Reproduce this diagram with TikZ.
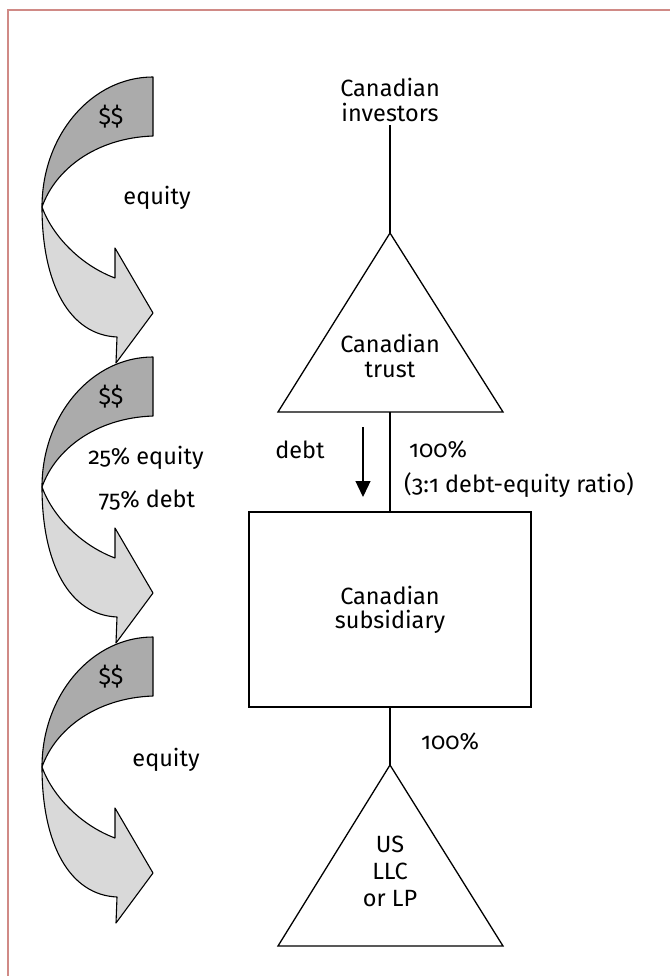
\documentclass[tikz,border=0pt]{standalone}
\usepackage{fontspec}
\setmainfont{Fira Sans}[Numbers=OldStyle]
\usetikzlibrary{arrows.meta}
\definecolor{framecol}{RGB}{208,138,134}
\definecolor{darkband}{RGB}{171,171,171}
\definecolor{lightband}{RGB}{217,217,217}
\tikzset{
  lbl/.style={font=\fontsize{23.5}{24.5}\selectfont, inner sep=0pt, align=center, text=black},
  shapeline/.style={draw=black, line width=1.3pt, line join=miter},
  bandline/.style={draw=black, line width=1.1pt, line join=round},
}
\begin{document}
\begin{tikzpicture}[x=1pt,y=-1pt]
\useasboundingbox (0,0) rectangle (670,976);
\fill[white] (0,0) rectangle (670,976);
\draw[framecol, line width=1.5pt] (8,976) -- (8,10) -- (670,10);

% curved ribbon arrows
\foreach \k in {0,1,2}{
  \begin{scope}[shift={(0,280*\k)}]
    \draw[bandline, fill=lightband] (42,207) .. controls (42,285) and (70,335) .. (117,337)
      -- (116,363) -- (153,313) -- (115,248) -- (115,278)
      .. controls (80,265) and (52,235) .. (42,207) -- cycle;
    \draw[bandline, fill=darkband] (153,77) .. controls (91.7,77) and (42,135.2) .. (42,207)
      .. controls (55,170) and (95,138) .. (153,136) -- cycle;
    \node[lbl] (dollar\k) at (111,117) {\$\$};
  \end{scope}
}
\node[lbl] (eq1) at (157,198) {equity};
\node[lbl] (eq2) at (146,458) {25\% equity};
\node[lbl] (db2) at (147,500) {75\% debt};
\node[lbl] (eq3) at (166,760) {equity};

% right structure
\node[lbl] (inv) at (390,100) {Canadian\\investors};
\coordinate (trustapex) at (390,233);
\coordinate (trustbase) at (390,412);
\draw[shapeline] (trustapex) -- (503,412) -- (278,412) -- cycle;
\node[lbl] (trust) at (390,356) {Canadian\\trust};

\node[shapeline, minimum width=282pt, minimum height=195pt, inner sep=0pt] (sub) at (390,609.5) {};
\node[lbl] (subtxt) at (390,610) {Canadian\\subsidiary};

\coordinate (llcapex) at (390,765);
\draw[shapeline] (llcapex) -- (503,946) -- (278,946) -- cycle;
\node[lbl, align=center, font=\fontsize{23.5}{27}\selectfont] (llc) at (390,871) {US\\LLC\\or LP};

\draw[line width=1.3pt] (inv.south) ++(0,3) coordinate (invb) -- (trustapex);
\draw[line width=1.3pt] (trustbase) -- (sub.north);
\draw[line width=1.3pt] (sub.south) -- (llcapex);

\coordinate (dA) at (363,427);
\coordinate (dB) at (363,497);
\draw[line width=1.3pt, -{Triangle[width=15pt,length=16pt]}] (dA) -- (dB);
\node[lbl] (debt) at (300,450) {debt};
\node[lbl, anchor=west] (p1) at (409,450) {100\%};
\node[lbl, anchor=west] (ratio) at (404,485) {(3:1 debt-equity ratio)};
\node[lbl] (p2) at (450,742) {100\%};
\end{tikzpicture}
\end{document}
